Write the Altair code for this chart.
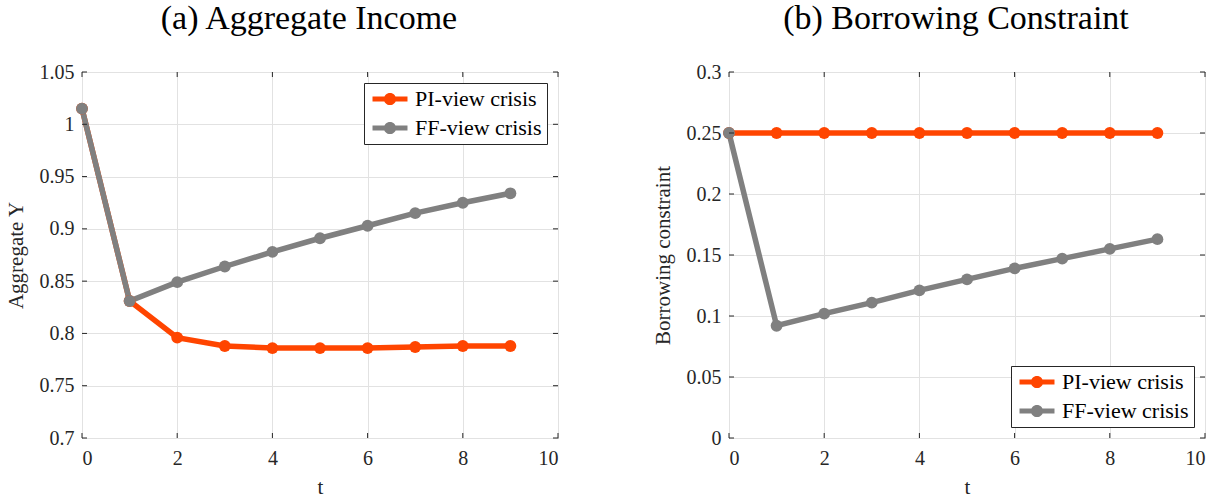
import altair as alt
import pandas as pd

# Periods after the shock
t = list(range(10))

# Panel (a): aggregate income
income_pi = [1.015, 0.831, 0.796, 0.788, 0.786, 0.786, 0.786, 0.787, 0.788, 0.788]
income_ff = [1.015, 0.831, 0.849, 0.864, 0.878, 0.891, 0.903, 0.915, 0.925, 0.934]

# Panel (b): borrowing constraint
borrow_pi = [0.25, 0.25, 0.25, 0.25, 0.25, 0.25, 0.25, 0.25, 0.25, 0.25]
borrow_ff = [0.25, 0.092, 0.102, 0.111, 0.121, 0.130, 0.139, 0.147, 0.155, 0.163]

series = ["PI-view crisis", "FF-view crisis"]
colors = ["#FF4500", "#808080"]

x_ticks = [0, 2, 4, 6, 8, 10]
income_ticks = [0.7, 0.75, 0.8, 0.85, 0.9, 0.95, 1.0, 1.05]
borrow_ticks = [0, 0.05, 0.1, 0.15, 0.2, 0.25, 0.3]

W, H = 476, 366
FONT = "Liberation Serif"
INK = "#262626"
TICK = 5

# legend glyph: thick line segment with a dot in the middle
LEGEND_SYMBOL = (
    "M-2,-0.29H2V0.29H-2Z "
    "M0.7,0A0.7,0.7 0 1,1 -0.7,0A0.7,0.7 0 1,1 0.7,0Z"
)


def panel(pi, ff, yticks, ytitle, title, legend_orient):
    df = pd.DataFrame({
        "t": t + t,
        "value": pi + ff,
        "series": [series[0]] * len(t) + [series[1]] * len(t),
    })
    xscale = alt.Scale(domain=[x_ticks[0], x_ticks[-1]], nice=False)
    yscale = alt.Scale(domain=[yticks[0], yticks[-1]], nice=False, zero=False)
    cscale = alt.Scale(domain=series, range=colors)

    xaxis = alt.Axis(
        values=x_ticks, title="t", grid=True, gridColor="#e2e2e2",
        domain=False, ticks=False, labelPadding=10, titlePadding=8,
        labelFont=FONT, labelFontSize=20, labelColor=INK,
        titleFont=FONT, titleFontSize=21, titleFontWeight="normal", titleColor=INK,
    )
    yaxis = alt.Axis(
        values=yticks, format="~g", title=ytitle, grid=True, gridColor="#e2e2e2",
        domain=False, ticks=False, labelPadding=8, titlePadding=13,
        labelFont=FONT, labelFontSize=20, labelColor=INK,
        titleFont=FONT, titleFontSize=21, titleFontWeight="normal", titleColor=INK,
    )
    legend = alt.Legend(
        title=None, orient=legend_orient, offset=11,
        fillColor="white", strokeColor=INK, padding=5,
        symbolType=LEGEND_SYMBOL, symbolSize=306, symbolOffset=10,
        symbolStrokeWidth=0, labelOffset=14, rowPadding=7,
        labelFont=FONT, labelFontSize=22, labelColor="black", labelLimit=300,
    )
    x = alt.X("t:Q", scale=xscale, axis=xaxis)
    y = alt.Y("value:Q", scale=yscale, axis=yaxis)
    color = alt.Color("series:N", scale=cscale, legend=legend)

    lines = alt.Chart(df).mark_line(strokeWidth=5.5).encode(x=x, y=y, color=color)
    points = alt.Chart(df).mark_point(filled=True, size=140, opacity=1).encode(
        x=x, y=y, color=color
    )

    # inward-pointing tick marks on all four sides of the box
    ydf = pd.DataFrame({"v": yticks})
    xdf = pd.DataFrame({"v": x_ticks})
    ty = alt.Y("v:Q", scale=yscale, axis=yaxis)
    tx = alt.X("v:Q", scale=xscale, axis=xaxis)
    rule = dict(color=INK, strokeWidth=1)
    ticks = [
        alt.Chart(ydf).mark_rule(**rule).encode(y=ty, x=alt.value(0), x2=alt.value(TICK)),
        alt.Chart(ydf).mark_rule(**rule).encode(y=ty, x=alt.value(W - TICK), x2=alt.value(W)),
        alt.Chart(xdf).mark_rule(**rule).encode(x=tx, y=alt.value(H - TICK), y2=alt.value(H)),
        alt.Chart(xdf).mark_rule(**rule).encode(x=tx, y=alt.value(0), y2=alt.value(TICK)),
    ]

    return alt.layer(lines, points, *ticks).properties(
        width=W, height=H,
        title=alt.TitleParams(
            text=title, font=FONT, fontSize=34, fontWeight="normal",
            color="black", anchor="middle", dx=-11, offset=26,
        ),
    )


left = panel(income_pi, income_ff, income_ticks, "Aggregate Y",
             "(a) Aggregate Income", "top-right")
right = panel(borrow_pi, borrow_ff, borrow_ticks, "Borrowing constraint",
              "(b) Borrowing Constraint", "bottom-right")

chart = (
    alt.hconcat(left, right, spacing=92)
    .resolve_scale(x="independent", y="independent", color="independent")
    .resolve_legend(color="independent")
    .properties(padding={"left": 4, "top": 1, "right": 10, "bottom": 4}, background="white")
    .configure_view(stroke=INK, strokeWidth=1)
)

chart.save("out.html", embed_options={"renderer": "svg", "actions": False})
